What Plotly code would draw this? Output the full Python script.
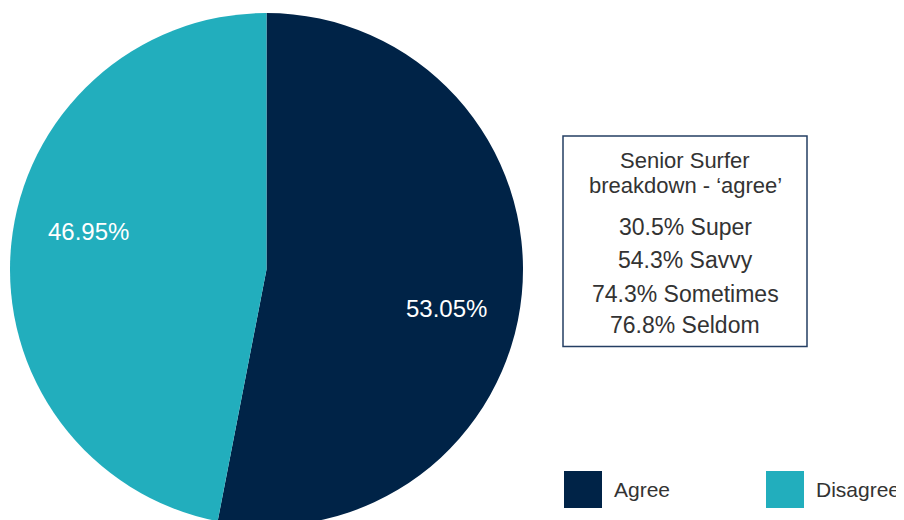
import plotly.graph_objects as go

# The page body has an 8px margin, so the figure is offset by 8px on the page.
OFF = 8
W, H = 896, 530

categories = ["Agree", "Disagree"]
values = [53.05, 46.95]
colors = ["#002347", "#22AEBD"]

box_title = ["Senior Surfer", "breakdown - \u2018agree\u2019"]
breakdown_pct = ["30.5%", "54.3%", "74.3%", "76.8%"]
breakdown_cat = ["Super", "Savvy", "Sometimes", "Seldom"]

FONT = "Liberation Sans, Arial, sans-serif"
TXT = "#333333"


def px(x):
    return (x - OFF) / W


def py(y):
    return 1 - (y - OFF) / H


# pie geometry (page pixels)
PCX, PCY, PR = 266.5, 269.5, 256.5

fig = go.Figure()
fig.add_trace(go.Pie(
    labels=categories,
    values=values,
    marker=dict(colors=colors, line=dict(width=0)),
    sort=False,
    direction="clockwise",
    rotation=0,
    textinfo="none",
    domain=dict(x=[px(PCX - PR), px(PCX + PR)], y=[py(PCY + PR), py(PCY - PR)]),
    showlegend=False,
    hoverinfo="label+percent",
))

annotations = []
total = sum(values)
label_pos = [(446, 308.5), (88, 231.7)]
for v, (lx, ly) in zip(values, label_pos):
    annotations.append(dict(text=f"{v / total * 100:.2f}%", x=px(lx), y=py(ly),
                            xref="paper", yref="paper", showarrow=False,
                            xanchor="center", yanchor="middle",
                            font=dict(size=24, color="white", family=FONT)))

shapes = [dict(type="rect", xref="paper", yref="paper",
               x0=px(563), x1=px(807), y0=py(346.5), y1=py(136),
               line=dict(color="#243f63", width=1.5), fillcolor="white")]
cx = px(685)
title_y = [160.5, 185.5]
for t, yy in zip(box_title, title_y):
    annotations.append(dict(text=t, x=cx, y=py(yy), xref="paper", yref="paper",
                            showarrow=False, xanchor="center", yanchor="middle",
                            font=dict(size=22, color=TXT, family=FONT)))
line_y = [227, 259.5, 294, 325.3]
for p, c, yy in zip(breakdown_pct, breakdown_cat, line_y):
    annotations.append(dict(text=f"{p} {c}", x=cx, y=py(yy), xref="paper", yref="paper",
                            showarrow=False, xanchor="center", yanchor="middle",
                            font=dict(size=23, color=TXT, family=FONT)))

# legend
leg_x = [564, 766]
for cat, col, lx in zip(categories, colors, leg_x):
    shapes.append(dict(type="rect", xref="paper", yref="paper",
                       x0=px(lx), x1=px(lx + 38), y0=py(508), y1=py(471),
                       line=dict(width=0), fillcolor=col))
    annotations.append(dict(text=cat, x=px(lx + 47.5), y=py(489), xref="paper", yref="paper",
                            showarrow=False, xanchor="left", yanchor="middle",
                            font=dict(size=21, color=TXT, family=FONT)))

fig.update_layout(
    width=W, height=H,
    margin=dict(l=0, r=0, t=0, b=0),
    paper_bgcolor="white", plot_bgcolor="white",
    shapes=shapes, annotations=annotations,
)

fig.write_html("out.html")
